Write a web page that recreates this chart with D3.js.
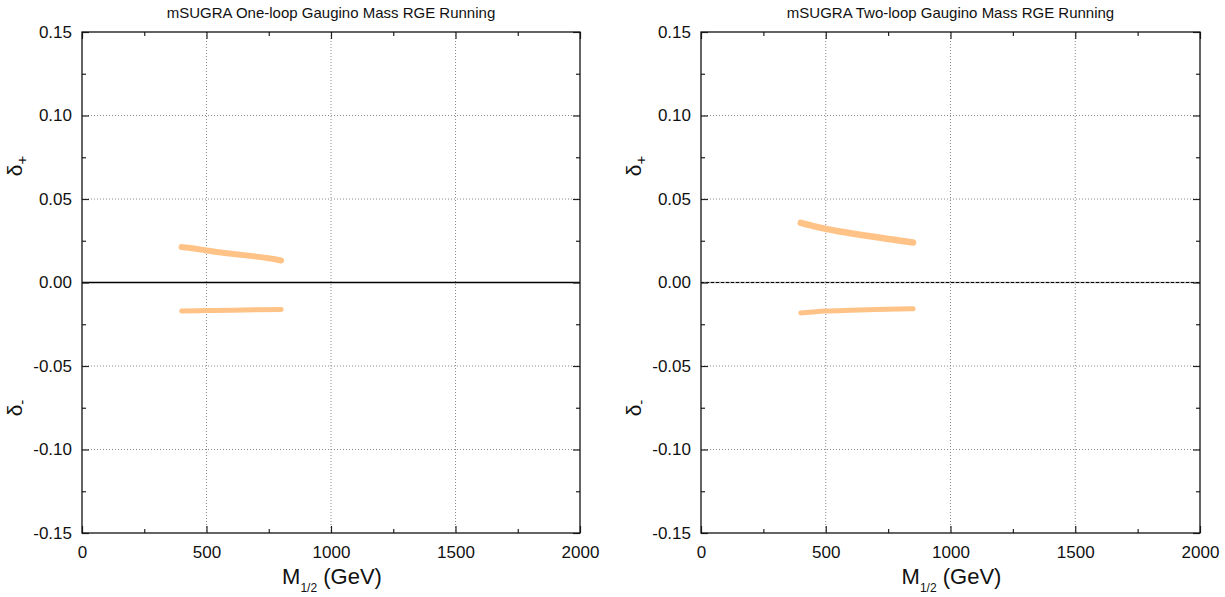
<!DOCTYPE html>
<html>
<head>
<meta charset="utf-8">
<script src="https://cdn.jsdelivr.net/npm/d3@7"></script>
<style>
  html, body { margin: 0; padding: 0; background: #fff; }
  svg { display: block; font-family: "Liberation Sans", Arial, sans-serif; }
</style>
</head>
<body>
<svg id="chart" width="1225" height="597"></svg>
<script>
// ---- Data ----
const panelTitles = ["mSUGRA One-loop Gaugino Mass RGE Running", "mSUGRA Two-loop Gaugino Mass RGE Running"];
const xTickValues = [0, 500, 1000, 1500, 2000];
const yTickValues = [-0.15, -0.10, -0.05, 0.00, 0.05, 0.10, 0.15];
const xDomain = [0, 2000];
const yDomain = [-0.15, 0.15];

// One-loop panel
const oneLoopPlusM   = [400, 450, 500, 550, 600, 650, 700, 750, 800];
const oneLoopPlus    = [0.0213, 0.0204, 0.0192, 0.0181, 0.0172, 0.0164, 0.0155, 0.0145, 0.0132];
const oneLoopMinusM  = [400, 500, 600, 700, 800];
const oneLoopMinus   = [-0.0170, -0.0168, -0.0166, -0.0163, -0.0161];

// Two-loop panel
const twoLoopPlusM   = [400, 450, 500, 550, 600, 650, 700, 750, 800, 850];
const twoLoopPlus    = [0.0357, 0.0338, 0.0321, 0.0307, 0.0295, 0.0283, 0.0272, 0.0261, 0.0250, 0.0240];
const twoLoopMinusM  = [400, 450, 500, 600, 700, 850];
const twoLoopMinus   = [-0.0182, -0.0176, -0.0171, -0.0166, -0.0162, -0.0157];

const bandColor = "#ffc388";

const svg = d3.select("#chart");

function zip(xs, ys) { return xs.map((x, i) => ({ x: x, y: ys[i] })); }

function drawPanel(left, right, title, bands, zeroDashed) {
  const top = 32, bottom = 533;
  const x = d3.scaleLinear().domain(xDomain).range([left, right]);
  const y = d3.scaleLinear().domain(yDomain).range([bottom, top]);
  const g = svg.append("g");

  // grid (dotted)
  const gridX = [500, 1000, 1500];
  const gridY = [-0.10, -0.05, 0.05, 0.10];
  g.selectAll(".gx").data(gridX).enter().append("line")
    .attr("x1", d => x(d)).attr("x2", d => x(d))
    .attr("y1", top).attr("y2", bottom)
    .attr("stroke", "#8a8a8a").attr("stroke-width", 1).attr("stroke-dasharray", "1,2");
  g.selectAll(".gy").data(gridY).enter().append("line")
    .attr("x1", left).attr("x2", right)
    .attr("y1", d => y(d)).attr("y2", d => y(d))
    .attr("stroke", "#8a8a8a").attr("stroke-width", 1).attr("stroke-dasharray", "1,2");

  // zero line
  if (zeroDashed) {
    g.append("line").attr("x1", left).attr("x2", right).attr("y1", y(0)).attr("y2", y(0))
      .attr("stroke", "#9a9a9a").attr("stroke-width", 1.6);
    g.append("line").attr("x1", left).attr("x2", right).attr("y1", y(0)).attr("y2", y(0))
      .attr("stroke", "#000").attr("stroke-width", 1).attr("stroke-dasharray", "3,2");
  } else {
    g.append("line").attr("x1", left).attr("x2", right).attr("y1", y(0)).attr("y2", y(0))
      .attr("stroke", "#000").attr("stroke-width", 1.6);
  }

  // bands
  const line = d3.line().x(d => x(d.x)).y(d => y(d.y)).curve(d3.curveMonotoneX);
  bands.forEach(b => {
    g.append("path").datum(b.data)
      .attr("d", line)
      .attr("fill", "none")
      .attr("stroke", bandColor)
      .attr("stroke-width", b.w)
      .attr("stroke-linecap", "round")
      .attr("stroke-linejoin", "round");
  });

  // axes with inside ticks
  const axisStyle = sel => {
    sel.select(".domain").remove();
    sel.selectAll(".tick line").attr("stroke", "#222").attr("stroke-width", 1.2);
  };
  const xMinor = d3.range(250, 2000, 500);
  const yMinor = d3.range(-0.125, 0.15, 0.05);

  // bottom
  const gb = g.append("g").attr("transform", `translate(0,${bottom})`)
    .call(d3.axisBottom(x).tickValues(xTickValues).tickSize(-7).tickPadding(13).tickFormat(d3.format("d")));
  axisStyle(gb);
  gb.selectAll("text").attr("font-size", 17).attr("fill", "#111").attr("font-family", "Liberation Sans, Arial, sans-serif");
  g.append("g").attr("transform", `translate(0,${bottom})`)
    .call(d3.axisBottom(x).tickValues(xMinor).tickSize(-4).tickFormat(""))
    .call(axisStyle);
  // top
  g.append("g").attr("transform", `translate(0,${top})`)
    .call(d3.axisTop(x).tickValues(xTickValues).tickSize(-7).tickFormat(""))
    .call(axisStyle);
  g.append("g").attr("transform", `translate(0,${top})`)
    .call(d3.axisTop(x).tickValues(xMinor).tickSize(-4).tickFormat(""))
    .call(axisStyle);
  // left
  const gl = g.append("g").attr("transform", `translate(${left},0)`)
    .call(d3.axisLeft(y).tickValues(yTickValues).tickSize(-7).tickPadding(10).tickFormat(d3.format(".2f")));
  axisStyle(gl);
  gl.selectAll("text").attr("font-size", 17).attr("fill", "#111").attr("font-family", "Liberation Sans, Arial, sans-serif")
    .text(d => d3.format(".2f")(d).replace("−", "-"));
  g.append("g").attr("transform", `translate(${left},0)`)
    .call(d3.axisLeft(y).tickValues(yMinor).tickSize(-4).tickFormat(""))
    .call(axisStyle);
  // right
  g.append("g").attr("transform", `translate(${right},0)`)
    .call(d3.axisRight(y).tickValues(yTickValues).tickSize(-7).tickFormat(""))
    .call(axisStyle);
  g.append("g").attr("transform", `translate(${right},0)`)
    .call(d3.axisRight(y).tickValues(yMinor).tickSize(-4).tickFormat(""))
    .call(axisStyle);

  // frame
  g.append("rect").attr("x", left).attr("y", top).attr("width", right - left).attr("height", bottom - top)
    .attr("fill", "none").attr("stroke", "#111").attr("stroke-width", 1.3);

  // title
  g.append("text").attr("x", (left + right) / 2).attr("y", 18)
    .attr("text-anchor", "middle").attr("font-size", 15).attr("fill", "#111").text(title);

  // x label
  const xl = g.append("text").attr("x", (left + right) / 2 + 1).attr("y", 584)
    .attr("text-anchor", "middle").attr("font-size", 22).attr("fill", "#111");
  xl.append("tspan").text("M");
  xl.append("tspan").attr("font-size", 12).attr("dy", 8).text("1/2");
  xl.append("tspan").attr("dy", -8).text(" (GeV)");

  // y labels (rotated)
  const ylab = (cy, sub) => {
    const t = g.append("text")
      .attr("transform", `translate(${left - 60},${cy}) rotate(-90)`)
      .attr("text-anchor", "middle").attr("font-size", 21).attr("fill", "#111");
    t.append("tspan").text("δ");
    t.append("tspan").attr("font-size", 15).attr("dy", 5).text(sub);
  };
  ylab(166, "+");
  ylab(408, "-");
}

drawPanel(82, 580, panelTitles[0], [
  { data: zip(oneLoopPlusM, oneLoopPlus), w: 6 },
  { data: zip(oneLoopMinusM, oneLoopMinus), w: 5 }
], false);

drawPanel(701, 1200, panelTitles[1], [
  { data: zip(twoLoopPlusM, twoLoopPlus), w: 6.5 },
  { data: zip(twoLoopMinusM, twoLoopMinus), w: 5 }
], true);
</script>
</body>
</html>
